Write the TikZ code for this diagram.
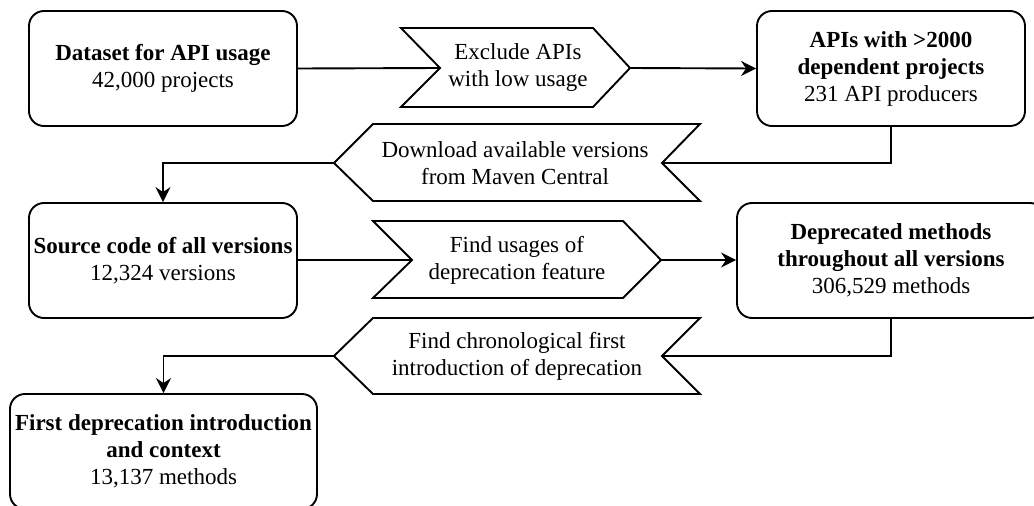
\documentclass[tikz,border=0pt]{standalone}
\usepackage{fontspec}
\setmainfont{Liberation Serif}
\newfontfamily\tnr{Liberation Serif}
\usetikzlibrary{arrows.meta}
\begin{document}
\begin{tikzpicture}[x=1pt,y=-1pt,
  txt/.style={font=\tnr\fontsize{23}{27}\selectfont, align=center, inner sep=0pt},
  box/.style={txt, draw, line width=1.9pt, rounded corners=15pt},
  chev/.style={draw, line width=1.9pt, line join=miter},
  conn/.style={line width=1.9pt},
  arr/.style={conn, -{Stealth[length=15pt,width=15pt,inset=5pt]}}
]
\useasboundingbox (0,0) rectangle (1034,506);

% boxes
\node[box, minimum width=268pt, minimum height=115pt] (b1) at (163,68.5)
  {\textbf{Dataset for API usage}\\42,000 projects};
\node[box, minimum width=268pt, minimum height=115pt] (b2) at (891,68.5)
  {\textbf{APIs with >2000}\\\textbf{dependent projects}\\231 API producers};
\node[box, minimum width=268pt, minimum height=115pt] (b3) at (163,260.5)
  {\textbf{Source code of all versions}\\12,324 versions};
\node[box, minimum width=308pt, minimum height=115pt] (b4) at (891,260.5)
  {\textbf{Deprecated methods}\\\textbf{throughout all versions}\\306,529 methods};
\node[box, minimum width=307pt, minimum height=115pt] (b5) at (163.5,451.5)
  {\textbf{First deprecation introduction}\\\textbf{and context}\\13,137 methods};

% chevrons
\draw[chev] (401,28) -- (593,28) -- (630,68) -- (593,107) -- (401,107) -- (440,68) -- cycle;
\coordinate (c1n) at (440,68);
\coordinate (c1t) at (630,68);
\node[txt] (c1) at (518,68) {Exclude APIs\\with low usage};

\draw[chev] (334,163) -- (373,124) -- (700,124) -- (662,163) -- (700,201) -- (373,201) -- cycle;
\coordinate (c2n) at (662,163);
\coordinate (c2t) at (334,163);
\node[txt] (c2) at (515,163) {Download available versions\\from Maven Central};

\draw[chev] (373,221) -- (623,221) -- (661,260) -- (623,298) -- (373,298) -- (412,260) -- cycle;
\coordinate (c3n) at (412,260);
\coordinate (c3t) at (661,260);
\node[txt] (c3) at (517,260) {Find usages of\\deprecation feature};

\draw[chev] (334,356) -- (373,318) -- (700,318) -- (662,356) -- (700,394) -- (373,394) -- cycle;
\coordinate (c4n) at (662,356);
\coordinate (c4t) at (334,356);
\node[txt] (c4) at (517,356) {Find chronological first\\introduction of deprecation};

% connectors
\draw[conn] (b1.east) -- (c1n);
\draw[arr] (c1t) -- (b2.west);
\draw[conn] (b2.south) |- (c2n);
\draw[arr] (c2t) -| (b3.north);
\draw[conn] (b3.east |- c3n) -- (c3n);
\draw[arr] (c3t) -- (b4.west |- c3t);
\draw[conn] (b4.south) |- (c4n);
\draw[arr] (c4t) -| (b5.north);
\end{tikzpicture}
\end{document}
